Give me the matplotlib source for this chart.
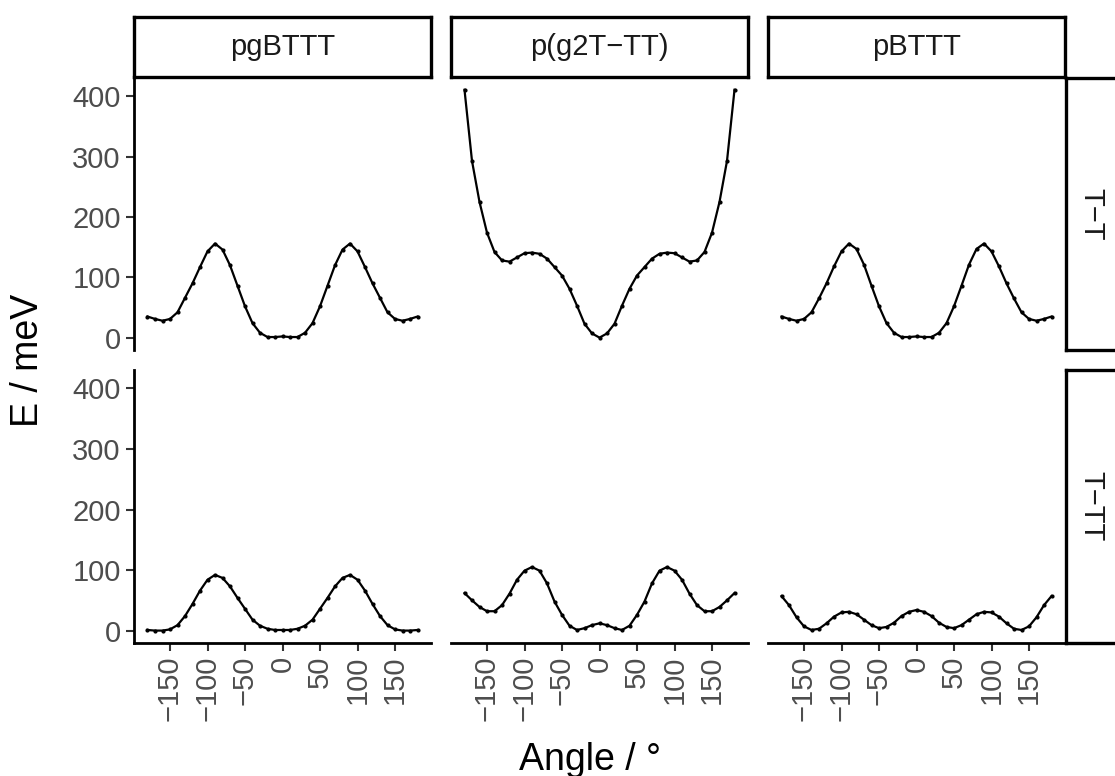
import matplotlib
matplotlib.use("Agg")
import matplotlib.pyplot as plt

plt.rcParams['font.family'] = ['Liberation Sans', 'DejaVu Sans']

# dados (ângulo a cada 10 graus)
angle = [-180, -170, -160, -150, -140, -130, -120, -110, -100, -90,
         -80, -70, -60, -50, -40, -30, -20, -10, 0,
         10, 20, 30, 40, 50, 60, 70, 80, 90,
         100, 110, 120, 130, 140, 150, 160, 170, 180]

pgbttt_tt = [35, 31, 28, 31, 42, 66, 90, 117, 143, 156, 146, 120, 86, 52, 24, 8, 1, 1, 2,
             1, 1, 8, 24, 52, 86, 120, 146, 156, 143, 117, 90, 66, 42, 31, 28, 31, 35]
pg2t_tt = [411, 293, 225, 174, 142, 128, 126, 133, 140, 141, 139, 131, 117, 103, 81, 53, 23, 7, 0,
           7, 23, 53, 81, 103, 117, 131, 139, 141, 140, 133, 126, 128, 142, 174, 225, 293, 411]
pbttt_tt = [35, 31, 28, 31, 42, 65, 90, 118, 143, 156, 147, 121, 86, 52, 24, 8, 1, 1, 2,
            1, 1, 8, 24, 52, 86, 121, 147, 156, 143, 118, 90, 65, 42, 31, 28, 31, 35]

pgbttt_ttt = [1, 0, 0, 2, 9, 24, 44, 66, 84, 92, 87, 73, 54, 36, 18, 8, 3, 1, 1,
              1, 3, 8, 18, 36, 54, 73, 87, 92, 84, 66, 44, 24, 9, 2, 0, 0, 1]
pg2t_ttt = [62, 50, 39, 32, 32, 42, 61, 84, 99, 105, 99, 78, 48, 26, 8, 1, 4, 9, 12,
            9, 4, 1, 8, 26, 48, 78, 99, 105, 99, 84, 61, 42, 32, 32, 39, 50, 62]
pbttt_ttt = [57, 42, 22, 7, 1, 3, 12, 23, 30, 31, 27, 18, 9, 4, 6, 13, 24, 31, 34,
             31, 24, 13, 6, 4, 9, 18, 27, 31, 30, 23, 12, 3, 1, 7, 22, 42, 57]

polimeros = ['pgBTTT', 'p(g2T\u2212TT)', 'pBTTT']
ligacoes = ['T\u2212T', 'T\u2212TT']
energias = [[pgbttt_tt, pg2t_tt, pbttt_tt],
            [pgbttt_ttt, pg2t_ttt, pbttt_ttt]]

yticks = [0, 100, 200, 300, 400]
xticks = [-150, -100, -50, 0, 50, 100, 150]

W, H = 1115, 776
fig = plt.figure(figsize=(W / 100, H / 100), dpi=100)

def px(x0, y0, x1, y1):
    return [x0 / W, 1 - y1 / H, (x1 - x0) / W, (y1 - y0) / H]

col_x = [(134, 431), (451, 748), (768, 1065)]
row_y = [(78, 350), (370, 643)]

tick_col = '#333333'
lab_col = '#4D4D4D'

for r in range(2):
    for c in range(3):
        ax = fig.add_axes(px(col_x[c][0], row_y[r][0], col_x[c][1], row_y[r][1]))
        ax.plot(angle, energias[r][c], color='black', lw=1.6, marker='o', ms=2.0)
        ax.set_xlim(-198, 198)
        ax.set_ylim(-20.5, 430.5)
        ax.set_xticks(xticks)
        ax.set_yticks(yticks)
        for s in ['top', 'right']:
            ax.spines[s].set_visible(False)
        ax.spines['left'].set_visible(c == 0)
        ax.spines['bottom'].set_visible(r == 1)
        ax.spines['left'].set_linewidth(2)
        ax.spines['bottom'].set_linewidth(2)
        ax.tick_params(axis='both', colors=tick_col, width=1.5, length=6,
                       labelcolor=lab_col, labelsize=21)
        if c > 0:
            ax.tick_params(axis='y', left=False, labelleft=False)
        if r == 0:
            ax.tick_params(axis='x', bottom=False, labelbottom=False)
        else:
            ax.tick_params(axis='x', labelrotation=90, pad=3)
        ax.patch.set_visible(False)

# faixas superiores
for c in range(3):
    sx = fig.add_axes(px(col_x[c][0], 17, col_x[c][1], 77))
    sx.set_xticks([])
    sx.set_yticks([])
    for s in sx.spines.values():
        s.set_linewidth(2.4)
    sx.text(0.5, 0.5, polimeros[c], ha='center', va='center', fontsize=21,
            color='#1A1A1A', transform=sx.transAxes)

# faixas da direita
for r in range(2):
    sy = fig.add_axes(px(1066, row_y[r][0], 1126, row_y[r][1]))
    sy.set_xticks([])
    sy.set_yticks([])
    for s in sy.spines.values():
        s.set_linewidth(2.4)
    sy.text(0.42, 0.5, ligacoes[r], ha='center', va='center', fontsize=21,
            color='#1A1A1A', rotation=-90, transform=sy.transAxes)

fig.text(28 / W, 1 - 360 / H, 'E / meV', rotation=90, ha='center', va='center', fontsize=27)
fig.text(590 / W, 1 - 760 / H, 'Angle / \u00b0', ha='center', va='center', fontsize=27)

fig.savefig('out.png', dpi=100)
